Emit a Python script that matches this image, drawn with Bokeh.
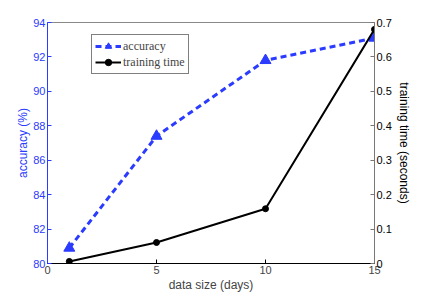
from bokeh.plotting import figure
from bokeh.models import Range1d, LinearAxis, Legend, LegendItem, FixedTicker
from bokeh.embed import file_html
from bokeh.resources import INLINE

days = [1, 5, 10, 15]
accuracy = [80.9, 87.4, 91.8, 93.1]
train_time = [0.006, 0.061, 0.159, 0.68]

BLUE = "#2b3bff"

p = figure(width=414, height=294, output_backend="svg", toolbar_location=None,
           x_range=Range1d(0, 15), y_range=Range1d(80, 94),
           min_border_left=47, min_border_right=40, min_border_top=22, min_border_bottom=30)
p.extra_y_ranges = {"time": Range1d(0, 0.7)}
p.grid.visible = False
p.outline_line_color = "#888888"
p.outline_line_width = 1

ax = p.xaxis[0]
ax.ticker = FixedTicker(ticks=[0, 5, 10, 15])
ax.axis_label = "data size (days)"
ay = p.yaxis[0]
ay.ticker = FixedTicker(ticks=list(range(80, 95, 2)))
ay.axis_label = "accuracy (%)"

ry = LinearAxis(y_range_name="time", axis_label="training time (seconds)",
                ticker=FixedTicker(ticks=[0, 0.1, 0.2, 0.3, 0.4, 0.5, 0.6, 0.7]))
p.add_layout(ry, "right")

for a in [ax, ay, ry]:
    a.major_tick_in = 4
    a.major_tick_out = 0
    a.minor_tick_line_color = None
    a.major_label_text_font = "Liberation Sans"
    a.axis_label_text_font = "Liberation Sans"
    a.major_label_text_font_size = "11px"
    a.axis_label_text_font_size = "12px"
    a.axis_label_text_font_style = "normal"
    a.axis_label_standoff = 1
    a.major_label_standoff = 2
ay.axis_label_standoff = 0
ry.axis_label_standoff = 2
ax.axis_line_color = "black"
ax.major_tick_line_color = "black"
ay.axis_line_color = BLUE
ay.major_tick_line_color = BLUE
ay.major_label_text_color = BLUE
ay.axis_label_text_color = BLUE
ry.axis_line_color = "#777777"
ry.major_tick_line_color = "#777777"
ry.major_label_text_color = "black"
ry.axis_label_text_color = "black"

l1 = p.line(days, accuracy, line_color=BLUE, line_width=3, line_dash="6 4")
s1 = p.scatter(days, accuracy, marker="triangle", size=11, fill_color=BLUE, line_color=BLUE)
l2 = p.line(days, train_time, y_range_name="time", line_color="black", line_width=2)
s2 = p.scatter(days, train_time, y_range_name="time", marker="circle", size=6,
               fill_color="black", line_color="black")

legend = Legend(items=[LegendItem(label="accuracy", renderers=[l1, s1]),
                       LegendItem(label="training time", renderers=[l2, s2])],
                location=(44, 189))
legend.margin = 0
legend.label_text_font = "Liberation Serif"
legend.label_text_font_size = "12px"
legend.border_line_color = "black"
legend.border_line_width = 1
legend.padding = 3
legend.spacing = 0
legend.glyph_width = 26
legend.glyph_height = 16
legend.label_height = 16
legend.label_standoff = 2
p.add_layout(legend)

open("out.html", "w").write(file_html(p, INLINE))
